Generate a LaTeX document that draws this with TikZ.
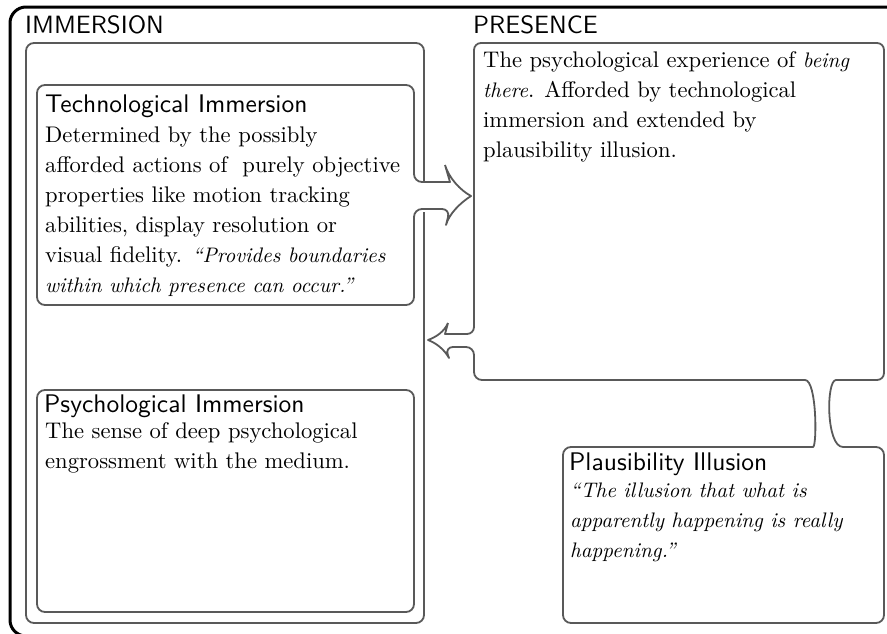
\documentclass[tikz,border=0pt]{standalone}
\usepackage{fontspec}
\setmainfont{lmroman10}[Extension=.otf, UprightFont=*-regular, ItalicFont=*-italic, BoldFont=*-bold, ItalicFeatures={Scale=0.93}]
\setsansfont{lmsans10}[Extension=.otf, UprightFont=*-regular, ItalicFont=*-oblique, BoldFont=*-bold]
\usepackage{tikz}
\usetikzlibrary{positioning}

\begin{document}
\begin{tikzpicture}[x=1pt, y=-1pt,
	outerframe/.style={draw=black, line width=3pt, rounded corners=16pt},
	boxline/.style={draw=black!65, line width=1.8pt, line join=round},
	area title/.style={font=\fontsize{25}{25}\selectfont\sffamily, inner sep=0pt, anchor=base west},
	box title/.style={font=\fontsize{25.5}{25.5}\selectfont\sffamily, inner sep=0pt, anchor=base west},
	box text/.style={font=\fontsize{22.6}{30}\selectfont, inner sep=0pt, anchor=base west, align=left}]

\useasboundingbox (0,0) rectangle (887,633);
\begin{scope}
	\clip (0,0) rectangle (887,633);
	\draw[outerframe] (10,7) rectangle (905,636);
\end{scope}

% immersion area, open where the arrow leaves
\draw[boxline, rounded corners=8pt] (424,212) -- (424,623) -- (26,623) -- (26,43) -- (424,43) -- (424,181);

% technological immersion with its arrow
\draw[boxline] (445,165) -- (450,182) [rounded corners=8pt] -- (414,182) -- (414,85) -- (37,85) -- (37,305) -- (414,305) -- (414,209) -- (450,209) [sharp corners] -- (446,225)
	.. controls (449,214) and (460,203) .. (471,196)
	.. controls (460,190) and (449,178) .. (445,165);

% psychological immersion
\draw[boxline, rounded corners=8pt] (37,390) rectangle (414,612);

% presence joined to plausibility illusion
\draw[boxline] (448,323) -- (445,334) [rounded corners=7pt] -- (474,334) -- (474,43) -- (884,43) -- (884,380) -- (843,380)
	[sharp corners] .. controls (826,380) and (826,447) .. (843,447)
	[rounded corners=8pt] -- (884,447) -- (884,623) -- (563,623) -- (563,447) -- (805,447)
	[sharp corners] .. controls (817,447) and (817,380) .. (805,380)
	[rounded corners=8pt] -- (474,380) -- (474,347) -- (445,347)
	[sharp corners] -- (449,358)
	.. controls (444,349) and (436,343) .. (428,340)
	.. controls (436,337) and (444,332) .. (448,323);

\node[area title] (immersion) at (25,33) {IMMERSION};
\node[area title] (presence) at (473,33) {PRESENCE};

\node[box title] (techtitle) at (45,112) {Technological Immersion};
\node[box text] (techtext) at (45,292) {Determined by the possibly\\
	afforded actions of\ \ purely objective\\
	properties like motion tracking\\
	abilities, display resolution or\\
	visual fidelity. \textit{\textquotedblleft Provides boundaries}\\
	\textit{within which presence can occur.\textquotedblright}};

\node[box title] (psychtitle) at (44,412) {Psychological Immersion};
\node[box text] (psychtext) at (45,468) {The sense of deep psychological\\
	engrossment with the medium.};

\node[box text] (presencetext) at (483,157) {The psychological experience of \textit{being}\\
	\textit{there}. Afforded by technological\\
	immersion and extended by\\
	plausibility illusion.};

\node[box title] (plaustitle) at (569,470) {Plausibility Illusion};
\node[box text] (plaustext) at (570,557) {\textit{\textquotedblleft The illusion that what is}\\
	\textit{apparently happening is really}\\
	\textit{happening.\textquotedblright}};
\end{tikzpicture}
\end{document}
